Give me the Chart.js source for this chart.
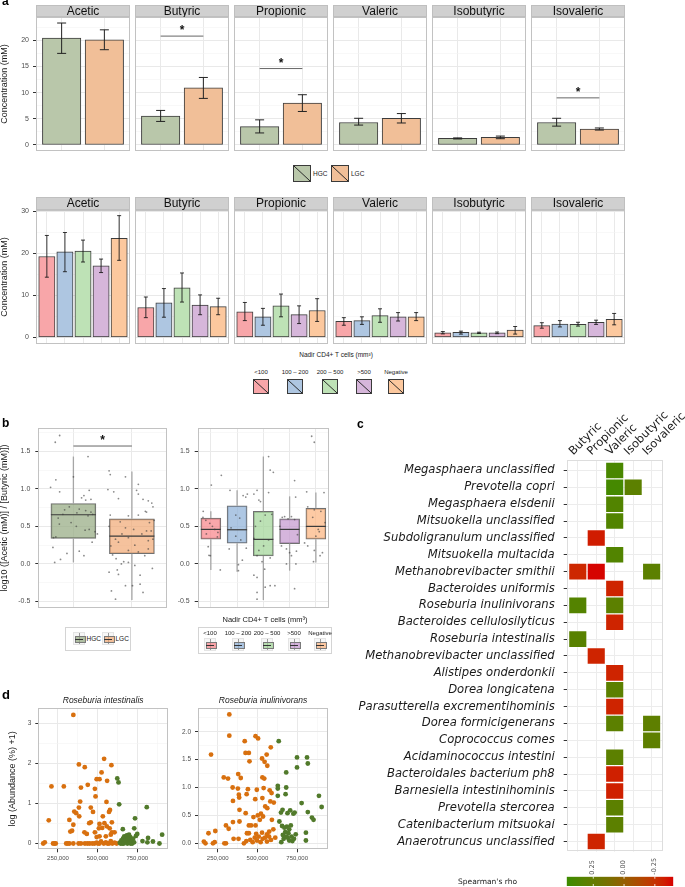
<!DOCTYPE html>
<html>
<head>
<meta charset="utf-8">
<script src="https://cdn.jsdelivr.net/npm/chart.js@4.4.0/dist/chart.umd.min.js"></script>
<style>
body { margin: 0; width: 685px; height: 887px; position: relative; overflow: hidden; background: #fff; font-family: "Liberation Sans", Arial, sans-serif; }
.t { position: absolute; white-space: nowrap; color: #1a1a1a; line-height: 1; }
canvas { position: absolute; }
</style>
</head>
<body>
<script>
const _ = null;

// ---- panel a (top): HGC vs LGC ----
const acids = ['Acetic', 'Butyric', 'Propionic', 'Valeric', 'Isobutyric', 'Isovaleric'];
const gcGroups = ['HGC', 'LGC'];
const hgcMean = [20.4, 5.5, 3.5, 4.3, 1.25, 4.3];
const hgcLow  = [17.5, 4.5, 2.3, 3.8, 1.15, 3.6];
const hgcHigh = [23.3, 6.6, 4.8, 5.1, 1.35, 5.1];
const lgcMean = [20.1, 10.9, 8.0, 5.1, 1.45, 3.05];
const lgcLow  = [18.2, 8.9, 6.4, 4.2, 1.2, 2.85];
const lgcHigh = [22.0, 12.9, 9.6, 6.0, 1.7, 3.25];
const gcSig   = [_, 20.8, 14.6, _, _, 9.0];

// ---- panel a (bottom): nadir CD4+ groups ----
const cd4Groups = ['<100', '100 – 200', '200 – 500', '>500', 'Negative'];
const cd4Mean = [
  [19.2, 20.3, 20.5, 17.0, 23.5],
  [7.1, 8.2, 11.8, 7.7, 7.3],
  [6.1, 4.9, 7.5, 5.4, 6.4],
  [3.8, 4.0, 5.2, 4.9, 4.9],
  [1.1, 1.2, 1.1, 1.1, 1.75],
  [2.8, 3.2, 3.1, 3.6, 4.3]
];
const cd4Low = [
  [14.3, 15.6, 17.9, 15.4, 18.3],
  [4.7, 4.8, 8.4, 5.4, 5.4],
  [4.0, 2.9, 4.9, 3.3, 3.8],
  [2.9, 3.1, 3.6, 3.9, 4.0],
  [0.85, 0.8, 0.95, 0.9, 0.8],
  [2.2, 2.5, 2.7, 3.1, 3.0]
];
const cd4High = [
  [24.2, 24.9, 23.1, 18.6, 28.9],
  [9.6, 11.6, 15.3, 10.1, 9.3],
  [8.3, 6.9, 10.3, 7.5, 9.2],
  [4.7, 4.9, 6.8, 5.9, 5.9],
  [1.4, 1.5, 1.25, 1.3, 2.6],
  [3.5, 4.0, 3.6, 4.1, 5.7]
];

// ---- panel b: log10(acetic/butyric) boxplots [lowWhisker, q1, median, q3, highWhisker] ----
const gcBox = [
  [0.02, 0.34, 0.655, 0.805, 1.43],
  [-0.48, 0.135, 0.37, 0.60, 1.23]
];
const cd4Box = [
  [-0.08, 0.33, 0.46, 0.61, 0.70],
  [-0.105, 0.275, 0.455, 0.775, 0.98],
  [-0.48, 0.107, 0.327, 0.70, 1.43],
  [-0.09, 0.27, 0.46, 0.60, 0.90],
  [0.02, 0.33, 0.50, 0.74, 0.95]
];
// jittered samples: [offset from group centre, value]
const hgcJitter = [[-0.235,1.71],[-0.31,1.62],[0.25,1.43],[-0.30,1.12],[-0.39,1.02],[-0.235,0.96],[0,1.16],[0.27,0.98],[0.18,0.91],[0.14,0.88],[0.21,0.85],[0.3,0.86],[-0.07,0.76],[-0.15,0.72],[0.10,0.73],[0.21,0.71],[0.3,0.69],[0.33,0.66],[-0.26,0.61],[-0.04,0.55],[-0.24,0.53],[0.27,0.46],[0.2,0.45],[0.05,0.50],[-0.34,0.35],[0.41,0.40],[-0.35,0.22],[0.10,0.17],[-0.11,0.14],[0.18,0.11],[-0.22,0.06],[-0.32,0.02],[0.32,0.29],[-0.3,0.36],[0.37,0.43],[-0.18,0.66],[0.06,0.68],[0.25,0.64]];
const lgcJitter = [[-0.39,1.24],[-0.37,1.19],[-0.11,1.16],[0.11,1.06],[-0.41,0.99],[-0.31,0.96],[-0.23,0.87],[0.08,0.98],[0.11,0.93],[0.19,0.86],[0.28,0.84],[0.34,0.81],[0.36,0.76],[0.23,0.70],[0.25,0.69],[-0.37,0.65],[-0.06,0.64],[0.11,0.65],[-0.39,0.50],[-0.11,0.48],[0.03,0.46],[0.25,0.44],[0.33,0.44],[-0.17,0.40],[-0.06,0.35],[0.17,0.40],[-0.28,0.33],[-0.23,0.29],[0.05,0.25],[0.28,0.31],[0.36,0.33],[-0.36,0.24],[-0.06,0.18],[0.11,0.16],[0.22,0.11],[-0.27,0.07],[-0.14,0.03],[-0.06,0.02],[-0.18,0.0],[0.35,-0.06],[-0.25,-0.08],[0.05,-0.02],[-0.39,-0.11],[-0.23,-0.14],[0.14,-0.15],[0.01,-0.29],[-0.11,-0.29],[-0.35,-0.36],[0.14,-0.27],[-0.28,-0.47],[0.19,-0.38],[0.3,0.55],[0.38,0.58],[-0.2,0.56],[-0.33,0.12],[0.28,0.2]];
const cd4Jitter = [
  [[-0.29,0.70],[0.02,1.05],[-0.19,0.58],[-0.04,0.54],[0.15,0.46],[-0.17,0.40],[0.27,0.42],[0.06,0.50],[-0.1,0.23],[-0.07,0.115],[-0.02,0.11],[0.36,-0.08],[0.4,1.18],[-0.3,0.62],[0.25,0.36]],
  [[-0.27,0.98],[-0.05,0.65],[0.1,0.61],[0.23,0.91],[0.33,0.89],[0.39,0.93],[-0.05,0.37],[0.14,0.32],[0.05,-0.01],[0.05,-0.09],[-0.23,0.48],[0.2,0.05],[0.35,0.21],[-0.3,0.2]],
  [[-0.36,0.93],[-0.24,0.98],[-0.17,0.85],[-0.11,0.83],[0.2,1.43],[0.26,1.25],[0.38,1.22],[0.2,0.95],[0.07,0.65],[0.32,0.66],[-0.11,0.57],[-0.36,0.34],[0.2,0.32],[0.01,0.24],[-0.17,0.18],[-0.24,0.11],[0.26,0.08],[-0.05,0.03],[-0.36,-0.15],[-0.24,-0.18],[0.05,-0.07],[-0.24,-0.38],[-0.24,-0.47],[0.26,-0.29],[0.44,-0.29],[0.07,-0.31],[-0.3,0.5]],
  [[-0.37,0.50],[-0.19,0.63],[-0.06,0.60],[0.07,0.63],[0.19,0.59],[0.23,0.89],[0.19,1.11],[-0.31,0.24],[-0.12,0.20],[0.0,0.15],[0.07,0.11],[0.26,0.17],[-0.12,0.0],[0.24,0.0],[0.19,-0.33],[-0.28,0.62],[0.3,0.39]],
  [[-0.35,0.96],[-0.16,1.70],[-0.06,1.62],[-0.31,0.76],[-0.06,0.72],[-0.12,0.62],[0.09,0.46],[0.13,0.43],[0.19,0.70],[0.31,0.95],[0.0,0.37],[-0.31,0.24],[-0.06,0.18],[0.16,0.11],[0.25,0.15],[-0.09,0.03],[-0.43,0.28],[0.35,0.55]]
];

// ---- panel c: Spearman's rho per species / SCFA ----
const scfa = ['Butyric', 'Propionic', 'Valeric', 'Isobutyric', 'Isovaleric'];
const species = ['Megasphaera unclassified', 'Prevotella copri', 'Megasphaera elsdenii', 'Mitsuokella unclassified',
  'Subdoligranulum unclassified', 'Mitsuokella multacida', 'Methanobrevibacter smithii', 'Bacteroides uniformis',
  'Roseburia inulinivorans', 'Bacteroides cellulosilyticus', 'Roseburia intestinalis', 'Methanobrevibacter unclassified',
  'Alistipes onderdonkii', 'Dorea longicatena', 'Parasutterella excrementihominis', 'Dorea formicigenerans',
  'Coprococcus comes', 'Acidaminococcus intestini', 'Bacteroidales bacterium ph8', 'Barnesiella intestinihominis',
  'Prevotella stercorea', 'Catenibacterium mitsuokai', 'Anaerotruncus unclassified'];
const butyricRho    = [_, _, _, _, _, _, -0.30, _, 0.34, _, 0.32, _, _, _, _, _, _, _, _, _, _, _, _];
const propionicRho  = [_, _, _, _, -0.33, _, -0.39, _, _, _, _, -0.31, _, _, _, _, _, _, _, _, _, _, -0.31];
const valericRho    = [0.40, 0.42, 0.35, 0.35, _, 0.35, _, -0.31, 0.30, -0.31, _, _, -0.31, 0.30, -0.31, 0.30, _, 0.30, -0.32, -0.32, 0.30, 0.30, _];
const isobutyricRho = [_, 0.30, _, _, _, _, _, _, _, _, _, _, _, _, _, _, _, _, _, _, _, _, _];
const isovalericRho = [_, _, _, _, _, _, 0.30, _, _, _, _, _, _, _, _, 0.29, 0.29, _, _, _, _, _, _];
const rhoMin = -0.40, rhoMax = 0.466;
const rhoTicks = [0.25, 0, -0.25];

// ---- panel d: abundance vs nadir-ish x ----
const intestLGC = [[347000,3.22],[541000,2.12],[587000,1.96],[382000,1.98],[419000,1.91],[525000,1.78],[494000,1.61],[512000,1.61],[560000,1.57],[209000,1.43],[287000,1.43],[438000,1.47],[395000,1.40],[483000,1.37],[487000,1.18],[390000,1.05],[556000,1.04],[382000,0.90],[457000,0.90],[353000,0.80],[365000,0.76],[471000,0.79],[578000,0.84],[572000,0.79],[384000,0.68],[533000,0.68],[322000,0.59],[192000,0.58],[347000,0.47],[512000,0.49],[457000,0.53],[447000,0.51],[543000,0.51],[590000,0.53],[328000,0.30],[339000,0.32],[417000,0.28],[432000,0.24],[483000,0.28],[508000,0.38],[529000,0.39],[558000,0.43],[576000,0.38],[590000,0.28],[607000,0.28],[494000,0.16],[512000,0.18],[552000,0.18],[583000,0.22],[157000,0],[167000,0.03],[219000,0],[228000,0],[236000,0],[302000,0],[312000,0],[322000,0],[347000,0],[380000,0],[395000,0],[420000,0],[436000,0],[450000,0],[467000,0],[481000,0],[494000,0.02],[502000,0],[512000,0],[522000,0.05],[539000,0],[552000,0.03],[562000,0],[572000,0],[583000,0.06],[593000,0],[607000,0.02],[620000,0]];
const intestHGC = [[624000,1.63],[632000,1.53],[636000,0.98],[659000,0.36],[736000,0.63],[810000,0.91],[731000,0.38],[750000,0.24],[742000,0.19],[907000,0.22],[783000,0.06],[818000,0.14],[814000,0.03],[849000,0.05],[890000,0.0],[640000,0.02],[650000,0.08],[660000,0.12],[668000,0.18],[672000,0.05],[680000,0.14],[688000,0.0],[694000,0.1],[700000,0.04],[706000,0.16],[712000,0.08],[718000,0.0],[724000,0.12],[730000,0.03],[645000,0.0],[655000,0.0],[665000,0.0],[676000,0.08],[684000,0.2],[698000,0.22],[708000,0.0],[690000,0.12]];
const inulLGC = [[323000,2.31],[323000,1.93],[208000,1.59],[420000,1.83],[488000,1.92],[504000,1.88],[425000,1.62],[446000,1.62],[450000,1.47],[529000,1.52],[545000,1.46],[562000,1.39],[558000,1.59],[584000,1.72],[288000,1.18],[315000,1.16],[379000,1.24],[395000,1.17],[344000,1.0],[377000,0.98],[440000,0.97],[496000,0.96],[531000,1.18],[543000,1.16],[539000,0.99],[383000,0.87],[385000,0.82],[432000,0.88],[486000,0.79],[531000,0.81],[577000,0.95],[589000,0.90],[346000,0.76],[387000,0.60],[426000,0.54],[581000,0.75],[603000,0.73],[549000,0.66],[562000,0.63],[522000,0.53],[475000,0.47],[502000,0.50],[535000,0.48],[302000,0.32],[319000,0.26],[346000,0.38],[387000,0.39],[446000,0.32],[460000,0.32],[488000,0.32],[515000,0.42],[591000,0.42],[192000,0.18],[235000,0.22],[434000,0.18],[446000,0.18],[492000,0.17],[529000,0.19],[560000,0.16],[574000,0.21],[350000,0.08],[381000,0.08],[163000,0.03],[173000,0],[220000,0],[231000,0.02],[292000,0],[302000,0],[415000,0],[430000,0.04],[455000,0.06],[470000,0.02],[483000,0.1],[497000,0.05],[508000,0.12],[520000,0.02],[533000,0.08],[548000,0.1],[560000,0.03],[573000,0.12],[585000,0.06],[600000,0.25],[612000,0.1]];
const inulHGC = [[634000,1.83],[749000,1.54],[812000,1.54],[817000,1.43],[681000,1.27],[749000,1.36],[628000,1.03],[628000,0.98],[681000,1.0],[677000,0.88],[628000,0.85],[887000,0.85],[904000,0.65],[778000,0.72],[648000,0.55],[658000,0.6],[689000,0.54],[706000,0.59],[726000,0.53],[734000,0.55],[843000,0.46],[853000,0.42],[817000,0.56],[638000,0.39],[655000,0.31],[670000,0.28],[685000,0.3],[700000,0.25],[710000,0.32],[741000,0.16],[805000,0.19],[805000,0.05],[660000,0.15],[675000,0.2],[690000,0.1],[700000,0.05],[715000,0.12],[720000,0.04],[730000,0.08],[650000,0.02],[665000,0.08],[695000,0.18],[680000,0.12]];

// ---- colours ----
const gcColors = ['#b9c7aa', '#f1bf98'];
const gcBoxColors = ['rgba(150,170,130,0.72)', 'rgba(240,165,110,0.68)'];
const cd4Colors = ['#f8a6a9', '#aec6e1', '#bee2b6', '#d6b6da', '#fcc89e'];
const cd4BoxColors = ['rgba(248,130,135,0.7)', 'rgba(140,175,215,0.7)', 'rgba(160,212,150,0.7)', 'rgba(195,150,205,0.7)', 'rgba(252,180,125,0.7)'];
const orange = '#d8700f', green = '#517a2b';

Chart.defaults.animation = false;
Chart.defaults.responsive = false;
Chart.defaults.font.family = '"Liberation Sans", Arial, sans-serif';
Chart.defaults.color = '#4d4d4d';
Chart.defaults.plugins.legend.display = false;
Chart.defaults.plugins.tooltip.enabled = false;
Chart.defaults.events = [];

function place(x, y, w, h) {
  const c = document.createElement('canvas');
  c.width = Math.round(w); c.height = Math.round(h);
  c.style.left = x + 'px'; c.style.top = y + 'px';
  c.style.width = Math.round(w) + 'px'; c.style.height = Math.round(h) + 'px';
  document.body.appendChild(c);
  return c;
}

function text(x, y, s, css) {
  const d = document.createElement('div');
  d.className = 't';
  d.style.left = x + 'px'; d.style.top = y + 'px';
  if (css) d.style.cssText += css;
  d.textContent = s;
  document.body.appendChild(d);
  return d;
}

// fixed axis size, no label overflow padding
function fixSize(size) {
  return s => {
    if (s.isHorizontal()) s.height = size; else s.width = size;
    s.paddingTop = 0; s.paddingBottom = 0; s.paddingLeft = 0; s.paddingRight = 0;
  };
}

function valueAxis(o) {
  const majors = o.majors, all = majors.concat(o.minors || []).sort((a, b) => a - b);
  const show = o.labels !== false;
  const fmt = o.fmt || (v => String(v));
  const isMajor = c => !!(c && c.tick && majors.includes(c.tick.value));
  return {
    type: 'linear', min: o.min, max: o.max, reverse: !!o.reverse, offset: false,
    afterBuildTicks: s => { s.ticks = all.map(v => ({ value: v })); },
    afterFit: fixSize(o.size),
    ticks: {
      display: show, autoSkip: false, maxRotation: 0, minRotation: 0,
      font: { size: o.font || 7 }, color: '#4d4d4d', padding: o.pad ?? 4,
      callback: v => majors.includes(v) ? fmt(v) : ''
    },
    grid: {
      offset: false,
      color: c => isMajor(c) ? '#e9e9e9' : '#f4f4f4',
      lineWidth: c => isMajor(c) ? 1 : 0.6,
      tickColor: c => isMajor(c) ? '#333' : 'rgba(0,0,0,0)',
      tickLength: 3, drawTicks: show
    },
    border: { display: false },
    title: o.title ? { display: true, text: o.title, font: { size: 9, lineHeight: 1 }, color: '#1a1a1a', padding: { top: o.tpad || 0, bottom: 0 } } : { display: false }
  };
}

function line(ctx, x1, y1, x2, y2) {
  ctx.beginPath(); ctx.moveTo(x1, y1); ctx.lineTo(x2, y2); ctx.stroke();
}

// strips, frames, error bars, whiskers, significance marks
function deco(o) {
  return {
    id: 'deco',
    afterDatasetDraw(chart, args) {
      if (args.index !== 0) return;
      const ctx = chart.ctx, ys = chart.scales.y, els = args.meta.data;
      ctx.save();
      if (o.lo) {
        ctx.strokeStyle = o.errColor || '#222'; ctx.lineWidth = 1;
        els.forEach((el, i) => {
          const yl = ys.getPixelForValue(o.lo[i]), yh = ys.getPixelForValue(o.hi[i]);
          line(ctx, el.x, yl, el.x, yh);
          line(ctx, el.x - o.cap, yl, el.x + o.cap, yl);
          line(ctx, el.x - o.cap, yh, el.x + o.cap, yh);
        });
      }
      if (o.box) {
        els.forEach((el, i) => {
          const p = o.box[i].map(v => ys.getPixelForValue(v));
          ctx.strokeStyle = '#a6a6a6'; ctx.lineWidth = 1.3;
          line(ctx, el.x, p[3], el.x, p[4]);
          line(ctx, el.x, p[1], el.x, p[0]);
          ctx.strokeStyle = '#3a3a3a'; ctx.lineWidth = 1.2;
          line(ctx, el.x - el.width / 2, p[2], el.x + el.width / 2, p[2]);
        });
      }
      if (o.cbar) {
        const xs = chart.scales.x, a = chart.chartArea;
        ctx.strokeStyle = 'rgba(255,255,255,0.8)'; ctx.lineWidth = 1;
        o.cbar.forEach(v => {
          const x = xs.getPixelForValue(v);
          line(ctx, x, a.top, x, a.top + 2); line(ctx, x, a.bottom - 2, x, a.bottom);
        });
      }
      ctx.restore();
    },
    afterDraw(chart) {
      const ctx = chart.ctx, a = chart.chartArea;
      ctx.save();
      if (o.strip) {
        ctx.fillStyle = '#d0d0d0';
        ctx.fillRect(a.left, 0, a.right - a.left, a.top - 0.5);
        ctx.strokeStyle = '#bfbfbf'; ctx.lineWidth = 1;
        ctx.strokeRect(Math.round(a.left) + 0.5, 0.5, Math.round(a.right - a.left) - 1, Math.round(a.top) - 1);
        ctx.fillStyle = '#111'; ctx.font = '12px "Liberation Sans", Arial';
        ctx.textAlign = 'center'; ctx.textBaseline = 'middle';
        ctx.fillText(o.strip, (a.left + a.right) / 2, a.top / 2 + 0.5);
      }
      if (o.frame !== false) {
        ctx.strokeStyle = o.frame || '#c2c2c2'; ctx.lineWidth = 1;
        ctx.strokeRect(Math.round(a.left) + 0.5, Math.round(a.top) + 0.5, Math.round(a.right - a.left) - 1, Math.round(a.bottom - a.top) - 1);
      }
      if (o.sig != null) {
        const xs = chart.scales.x, y = chart.scales.y.getPixelForValue(o.sig);
        const x1 = xs.getPixelForValue(o.sigFrom ?? 1), x2 = xs.getPixelForValue(o.sigTo ?? 2);
        ctx.strokeStyle = '#666'; ctx.lineWidth = 1;
        line(ctx, x1, y, x2, y);
        ctx.fillStyle = '#111'; ctx.font = 'bold 12px "Liberation Sans", Arial';
        ctx.textAlign = 'center'; ctx.textBaseline = 'middle';
        ctx.fillText('*', (x1 + x2) / 2, y - 5);
      }
      if (o.ptitle) {
        ctx.fillStyle = '#1a1a1a'; ctx.font = 'italic 8.5px "Liberation Sans", Arial';
        ctx.textAlign = 'center'; ctx.textBaseline = 'alphabetic';
        ctx.fillText(o.ptitle, (a.left + a.right) / 2, a.top - 5);
      }
      ctx.restore();
    }
  };
}

// ---------- panel a ----------
const facetLeft = [36, 135, 234, 333, 432, 531];
const facetW = 94;

function facetRow(row) {
  acids.forEach((name, i) => {
    const axisW = i === 0 ? 36 : 0;
    const n = row.cats.length;
    const unit = facetW / (n + 0.2);
    const canvas = place(facetLeft[i] - axisW, row.stripTop, axisW + facetW + 1, row.bottom - row.stripTop + 1);
    new Chart(canvas, {
      type: 'bar',
      data: {
        datasets: [{
          data: row.mean(i).map((v, k) => ({ x: k + 1, y: v })),
          backgroundColor: row.colors, borderColor: '#3c3c3c', borderWidth: 1, borderSkipped: false,
          barThickness: 0.9 * unit
        }]
      },
      options: {
        layout: { padding: { top: row.plotTop - row.stripTop, bottom: 1, right: 1, left: 0 } },
        scales: {
          x: valueAxis({ min: 0.4, max: n + 0.6, majors: row.cats.map((c, k) => k + 1), labels: false, size: 0 }),
          y: valueAxis(Object.assign({}, row.yAxis, { labels: i === 0, size: axisW, title: i === 0 ? 'Concentration (mM)' : null, fmt: v => String(v) }))
        }
      },
      plugins: [deco({ strip: name, lo: row.lo(i), hi: row.hi(i), cap: row.cap, sig: row.sig ? row.sig[i] : null, errColor: row.errColor })]
    });
  });
}

facetRow({
  cats: gcGroups, colors: gcColors, stripTop: 5, plotTop: 17, bottom: 151, cap: 4.5, errColor: '#222',
  mean: i => [hgcMean[i], lgcMean[i]], lo: i => [hgcLow[i], lgcLow[i]], hi: i => [hgcHigh[i], lgcHigh[i]],
  sig: gcSig,
  yAxis: { min: -1.15, max: 24.45, majors: [0, 5, 10, 15, 20], minors: [2.5, 7.5, 12.5, 17.5, 22.5] }
});

facetRow({
  cats: cd4Groups, colors: cd4Colors, stripTop: 197, plotTop: 210, bottom: 343.5, cap: 2, errColor: 'rgba(20,20,20,0.85)',
  mean: i => cd4Mean[i], lo: i => cd4Low[i], hi: i => cd4High[i],
  yAxis: { min: -1.55, max: 30.24, majors: [0, 10, 20, 30], minors: [5, 15, 25] }
});

// legends of panel a
function swatch(x, y, w, h, color) {
  const d = document.createElement('div');
  d.style.cssText = `position:absolute;left:${x}px;top:${y}px;width:${w}px;height:${h}px;box-sizing:border-box;border:1px solid #3a3a3a;` +
    `background:linear-gradient(to top right, ${color} calc(50% - 0.7px), #222 50%, ${color} calc(50% + 0.7px))`;
  document.body.appendChild(d);
}
swatch(293, 165, 18, 17, gcColors[0]);
text(313, 170.5, 'HGC', 'font-size:6.5px');
swatch(331, 165, 18, 17, gcColors[1]);
text(351, 170.5, 'LGC', 'font-size:6.5px');

text(336, 352, 'Nadir CD4+ T cells (mm³)', 'font-size:6.5px;transform:translateX(-50%)');
const cd4KeyX = [261, 295, 330, 364, 396];
cd4Groups.forEach((g, k) => {
  text(cd4KeyX[k], 368.5, g, 'font-size:6px;transform:translateX(-50%)');
  swatch(cd4KeyX[k] - 8, 379, 16, 15, cd4Colors[k]);
});

// ---------- panel b ----------
const bAxis = { min: -0.587, max: 1.81, majors: [-0.5, 0, 0.5, 1, 1.5], minors: [-0.25, 0.25, 0.75, 1.25, 1.75], fmt: v => v.toFixed(1), pad: 5 };

new Chart(place(0, 424, 171, 188), {
  type: 'bar',
  data: {
    datasets: [
      { type: 'bar', order: 2, data: gcBox.map((b, k) => ({ x: k, y: [b[1], b[3]] })),
        backgroundColor: gcBoxColors, borderColor: '#707070', borderWidth: 1, borderSkipped: false, barThickness: 45 },
      { type: 'scatter', order: 1,
        data: hgcJitter.map(p => ({ x: p[0], y: p[1] })).concat(lgcJitter.map(p => ({ x: 1 + p[0], y: p[1] }))),
        pointRadius: 0.9, backgroundColor: 'rgba(60,60,60,0.6)', borderWidth: 0 }
    ]
  },
  options: {
    layout: { padding: { top: 1.7, bottom: 1, right: 1 } },
    scales: {
      x: valueAxis({ min: -0.6, max: 1.6, majors: [0, 1], labels: false, size: 0 }),
      y: valueAxis(Object.assign({}, bAxis, { size: 38.3, title: 'log10 ([Acetic (mM)] / [Butyric (mM)])' }))
    }
  },
  plugins: [deco({ box: gcBox, sig: 1.57, sigFrom: 0, sigTo: 1 })]
});

new Chart(place(170, 424, 163, 188), {
  type: 'bar',
  data: {
    datasets: [
      { type: 'bar', order: 2, data: cd4Box.map((b, k) => ({ x: k, y: [b[1], b[3]] })),
        backgroundColor: cd4BoxColors, borderColor: '#707070', borderWidth: 1, borderSkipped: false, barThickness: 20 },
      { type: 'scatter', order: 1,
        data: cd4Jitter.flatMap((pts, k) => pts.map(p => ({ x: k + p[0], y: p[1] }))),
        pointRadius: 0.9, backgroundColor: 'rgba(60,60,60,0.6)', borderWidth: 0 }
    ]
  },
  options: {
    layout: { padding: { top: 1.7, bottom: 1, right: 1.3 } },
    scales: {
      x: valueAxis({ min: -0.5, max: 4.5, majors: [0, 1, 2, 3, 4], labels: false, size: 0 }),
      y: valueAxis(Object.assign({}, bAxis, { size: 27.7 }))
    }
  },
  plugins: [deco({ box: cd4Box })]
});

// legends of panel b
function boxKey(x, y, color) {
  const d = document.createElement('div');
  d.style.cssText = `position:absolute;left:${x}px;top:${y}px;width:12px;height:13px;background:#f6f6f6;border:1px solid #e4e4e4;box-sizing:border-box`;
  d.innerHTML = `<div style="position:absolute;left:4.5px;top:0;width:1px;height:11px;background:#9a9a9a"></div>` +
    `<div style="position:absolute;left:0.5px;top:3px;width:9px;height:5px;background:${color};border:1px solid #7a7a7a"></div>` +
    `<div style="position:absolute;left:1px;top:5.5px;width:8px;height:1px;background:#333"></div>`;
  document.body.appendChild(d);
}
const lgL = document.createElement('div');
lgL.style.cssText = 'position:absolute;left:65px;top:627px;width:66px;height:24px;border:1px solid #d4d4d4;box-sizing:border-box';
document.body.appendChild(lgL);
boxKey(73, 632, gcBoxColors[0]);
text(86.5, 636, 'HGC', 'font-size:6.5px');
boxKey(102, 632, gcBoxColors[1]);
text(115.5, 636, 'LGC', 'font-size:6.5px');

text(265, 616, 'Nadir CD4+ T cells (mm³)', 'font-size:7.5px;transform:translateX(-50%)');
const lgR = document.createElement('div');
lgR.style.cssText = 'position:absolute;left:198px;top:627px;width:134px;height:27px;border:1px solid #d4d4d4;box-sizing:border-box';
document.body.appendChild(lgR);
const bKeyX = [210, 238, 267, 294, 320];
cd4Groups.forEach((g, k) => {
  text(bKeyX[k], 630, g, 'font-size:6px;transform:translateX(-50%)');
  boxKey(bKeyX[k] - 6, 638, cd4BoxColors[k]);
});

// ---------- panel c ----------
const rhoStops = [[0.466, [60, 140, 0]], [0.30, [92, 128, 0]], [0.15, [115, 115, 0]], [0.0, [150, 95, 0]], [-0.15, [180, 70, 0]], [-0.30, [205, 40, 0]], [-0.40, [215, 0, 0]]];
function rhoColor(v) {
  for (let k = 0; k < rhoStops.length - 1; k++) {
    const [v1, c1] = rhoStops[k], [v2, c2] = rhoStops[k + 1];
    if (v <= v1 && v >= v2) {
      const t = (v1 - v) / (v1 - v2);
      return `rgb(${c1.map((c, j) => Math.round(c + (c2[j] - c) * t)).join(',')})`;
    }
  }
  return v > 0 ? 'rgb(60,140,0)' : 'rgb(215,0,0)';
}
const rhoCols = [butyricRho, propionicRho, valericRho, isobutyricRho, isovalericRho];
const dejavu = '"DejaVu Sans", "Liberation Sans", sans-serif';

new Chart(place(345, 400, 340, 455), {
  type: 'bar',
  data: {
    datasets: rhoCols.map((col, c) => ({
      data: col.map((v, r) => v === null ? null : { x: [c + 0.5, c + 1.5], y: r, rho: v }).filter(Boolean),
      backgroundColor: ctx => ctx.raw ? rhoColor(ctx.raw.rho) : 'rgba(0,0,0,0)',
      borderColor: 'rgba(255,255,255,0.45)', borderWidth: 1, borderSkipped: false,
      barThickness: 16.9, grouped: false
    }))
  },
  options: {
    indexAxis: 'y',
    layout: { padding: { top: 0, bottom: 3.3, right: 22.3, left: 0 } },
    scales: {
      x: {
        type: 'linear', position: 'top', min: 0.4, max: 5.6, offset: false,
        afterBuildTicks: s => { s.ticks = scfa.map((n, k) => ({ value: k + 1 })); },
        afterFit: fixSize(60.3),
        ticks: { autoSkip: false, minRotation: 45, maxRotation: 45, padding: 2, labelOffset: 3, color: '#1a1a1a',
          font: { family: dejavu, size: 11.5 }, callback: v => scfa[v - 1] },
        grid: { color: '#ececec', drawTicks: false, offset: false },
        border: { display: false }
      },
      y: {
        type: 'linear', reverse: true, min: -0.6, max: 22.6, offset: false,
        afterBuildTicks: s => { s.ticks = species.map((n, k) => ({ value: k })); },
        afterFit: fixSize(221.7),
        ticks: { autoSkip: false, padding: 9, color: '#1a1a1a',
          font: { family: dejavu, size: 11.6, style: 'italic' }, callback: v => species[v] },
        grid: { color: '#ececec', tickColor: '#333', tickLength: 3, offset: false },
        border: { display: false }
      }
    }
  },
  plugins: [deco({ frame: '#dddddd' })]
});

// colour bar
new Chart(place(560, 850, 125, 37), {
  type: 'bar',
  data: {
    labels: [''],
    datasets: [{
      data: [[rhoMin, rhoMax]],
      backgroundColor: c => {
        const a = c.chart.chartArea;
        if (!a) return 'rgba(0,0,0,0)';
        const g = c.chart.ctx.createLinearGradient(a.left, 0, a.right, 0);
        for (let k = 0; k <= 12; k++) g.addColorStop(k / 12, rhoColor(rhoMax - (rhoMax - rhoMin) * k / 12));
        return g;
      },
      borderWidth: 0, barPercentage: 1, categoryPercentage: 1
    }]
  },
  options: {
    indexAxis: 'y',
    layout: { padding: { top: 0, bottom: 1, right: 11.7, left: 0 } },
    scales: {
      x: {
        type: 'linear', position: 'top', reverse: true, min: rhoMin, max: rhoMax,
        afterBuildTicks: s => { s.ticks = rhoTicks.map(v => ({ value: v })); },
        afterFit: fixSize(26.7),
        ticks: { autoSkip: false, minRotation: 90, maxRotation: 90, padding: -6, labelOffset: 7, color: '#4d4d4d',
          font: { family: dejavu, size: 6.5 }, callback: v => v.toFixed(2) },
        grid: { display: false },
        border: { display: false }
      },
      y: { ticks: { display: false }, grid: { display: false }, border: { display: false }, afterFit: fixSize(6.7) }
    }
  },
  plugins: [deco({ frame: false, cbar: rhoTicks })]
});
text(458, 877.5, "Spearman's rho", `font-size:7.5px;font-family:${dejavu}`);

// ---------- panel d ----------
function scatterPanel(x, w, axisW, padRight, yAxis, lgc, hgc, title, yTitle) {
  new Chart(place(x, 690, w, 172), {
    type: 'scatter',
    data: {
      datasets: [
        { data: hgc.map(p => ({ x: p[0], y: p[1] })), backgroundColor: green, pointRadius: 2.4, borderWidth: 0 },
        { data: lgc.map(p => ({ x: p[0], y: p[1] })), backgroundColor: orange, pointRadius: 2.4, borderWidth: 0 }
      ]
    },
    options: {
      layout: { padding: { top: 18.3, bottom: 0, right: padRight, left: 0 } },
      scales: {
        x: valueAxis({ min: 126000, max: 944000, majors: [250000, 500000, 750000], minors: [375000, 625000, 875000],
          fmt: v => v.toLocaleString('en-US'), size: 12.7, font: 6, pad: 2 }),
        y: valueAxis(Object.assign({}, yAxis, { size: axisW, font: 6.5, pad: 4, title: yTitle, tpad: 7.6 }))
      }
    },
    plugins: [deco({ ptitle: title })]
  });
}
scatterPanel(0, 172, 38.3, 1.3,
  { min: -0.145, max: 3.385, majors: [0, 1, 2, 3], minors: [0.5, 1.5, 2.5], fmt: v => String(v) },
  intestLGC, intestHGC, 'Roseburia intestinalis', 'log (Abundance (%) +1)');
scatterPanel(172, 160, 26, 2,
  { min: -0.108, max: 2.42, majors: [0, 0.5, 1, 1.5, 2], minors: [0.25, 0.75, 1.25, 1.75, 2.25], fmt: v => v.toFixed(1) },
  inulLGC, inulHGC, 'Roseburia inulinivorans', null);

// panel letters
text(2, -5, 'a', 'font-size:12px;font-weight:bold;color:#000');
text(2, 417, 'b', 'font-size:12px;font-weight:bold;color:#000');
text(357, 418, 'c', 'font-size:12px;font-weight:bold;color:#000');
text(2, 688, 'd', 'font-size:13px;font-weight:bold;color:#000');
</script>
</body>
</html>
